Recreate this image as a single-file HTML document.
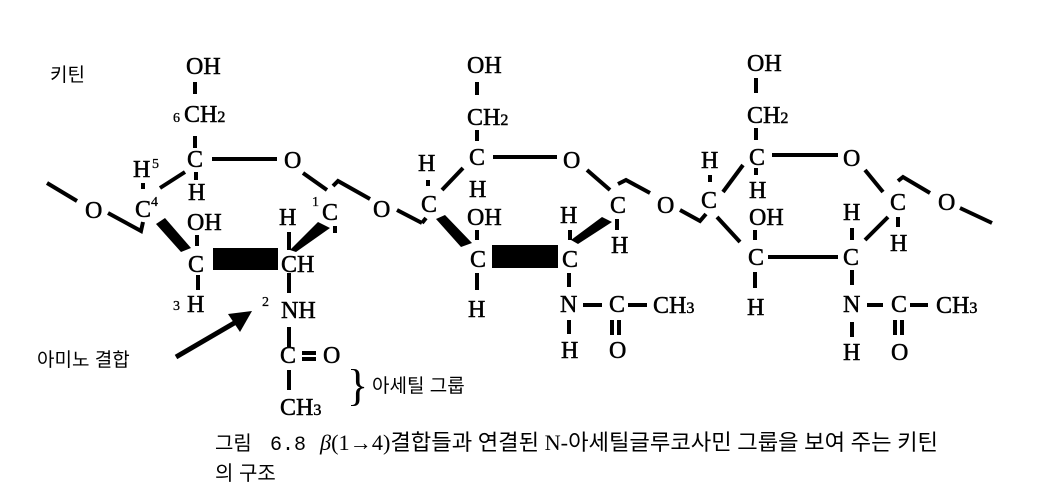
<!DOCTYPE html>
<html><head><meta charset="utf-8"><style>
html,body{margin:0;padding:0;background:#fff;}
svg{display:block;}
.a{font-family:"Liberation Serif","DejaVu Serif",serif;font-size:24px;fill:#000;stroke:#000;stroke-width:0.5;}
.s{font-family:"Liberation Serif",serif;font-size:14px;fill:#000;stroke:#000;stroke-width:0.3;}
.k{font-family:"Liberation Sans","Noto Sans CJK KR",sans-serif;font-size:19px;fill:#000;}
</style></head><body>
<svg width="1064" height="500" viewBox="0 0 1064 500" xmlns="http://www.w3.org/2000/svg">
<g stroke="#000" stroke-width="4" fill="none" stroke-linecap="butt">
<!-- ring 1 -->
<line x1="195" y1="82" x2="195" y2="94"/>
<line x1="195" y1="136" x2="195" y2="148"/>
<line x1="212" y1="159" x2="277" y2="159"/>
<line x1="196" y1="172" x2="196" y2="180"/>
<line x1="143" y1="183" x2="143" y2="189"/>
<line x1="160" y1="188" x2="185" y2="172"/>
<line x1="47" y1="183" x2="77" y2="201"/>
<polyline points="108,213 141,231 143,222"/>
<line x1="197" y1="235" x2="197" y2="246"/>
<line x1="289" y1="232" x2="289" y2="250"/>
<line x1="335" y1="226" x2="335" y2="233"/>
<line x1="303" y1="173" x2="327" y2="190"/>
<polyline points="333,186 338,181 370,199"/>
<line x1="397" y1="210" x2="422" y2="223"/>
<line x1="198" y1="275" x2="198" y2="290"/>
<line x1="289" y1="273" x2="289" y2="293"/>
<line x1="289" y1="327" x2="289" y2="347"/>
<line x1="289" y1="370" x2="289" y2="390"/>
<line x1="302" y1="353" x2="316" y2="353"/>
<line x1="302" y1="359" x2="316" y2="359"/>
<!-- ring 2 -->
<line x1="477" y1="82" x2="477" y2="95"/>
<line x1="477" y1="130" x2="477" y2="141"/>
<line x1="493" y1="157" x2="557" y2="157"/>
<line x1="428" y1="180" x2="428" y2="186"/>
<line x1="442" y1="190" x2="463" y2="168"/>
<polyline points="422,223 426,218"/>
<line x1="477" y1="230" x2="477" y2="240"/>
<line x1="570" y1="230" x2="570" y2="240"/>
<line x1="617" y1="219" x2="617" y2="230"/>
<line x1="587" y1="170" x2="610" y2="190"/>
<polyline points="618,184 626,180 650,193"/>
<polyline points="680,210 700,221 706,214"/>
<line x1="477" y1="273" x2="477" y2="290"/>
<line x1="569" y1="273" x2="569" y2="287"/>
<line x1="583" y1="305" x2="602" y2="305"/>
<line x1="628" y1="305" x2="647" y2="305"/>
<line x1="569" y1="320" x2="569" y2="334"/>
<line x1="612" y1="320" x2="612" y2="335"/>
<line x1="619" y1="320" x2="619" y2="335"/>
<!-- ring 3 -->
<line x1="756" y1="78" x2="756" y2="93"/>
<line x1="756" y1="128" x2="756" y2="140"/>
<line x1="772" y1="155" x2="838" y2="155"/>
<line x1="756" y1="168" x2="756" y2="175"/>
<line x1="710" y1="175" x2="710" y2="182"/>
<line x1="723" y1="192" x2="743" y2="165"/>
<line x1="717" y1="217" x2="740" y2="242"/>
<line x1="755" y1="230" x2="755" y2="240"/>
<line x1="768" y1="257" x2="838" y2="257"/>
<line x1="852" y1="228" x2="852" y2="240"/>
<line x1="865" y1="240" x2="888" y2="217"/>
<line x1="898" y1="217" x2="898" y2="227"/>
<line x1="865" y1="170" x2="883" y2="192"/>
<polyline points="898,181 903,177 930,193"/>
<line x1="960" y1="208" x2="992" y2="223"/>
<line x1="755" y1="272" x2="755" y2="288"/>
<line x1="852" y1="270" x2="852" y2="285"/>
<line x1="867" y1="305" x2="883" y2="305"/>
<line x1="910" y1="305" x2="928" y2="305"/>
<line x1="852" y1="322" x2="852" y2="337"/>
<line x1="895" y1="320" x2="895" y2="335"/>
<line x1="902" y1="320" x2="902" y2="335"/>
<line x1="176" y1="357" x2="236" y2="322" stroke-width="5"/>
</g>
<g fill="#000">
<polygon points="156,224 165,218 191,248 181,252"/>
<rect x="213" y="248" width="65" height="22"/>
<polygon points="290,250 296,252 330,228 318,222"/>
<polygon points="436,219 445,215 472,243 461,247"/>
<rect x="492" y="245" width="66" height="23"/>
<polygon points="571,240 578,244 612,222 602,217"/>
<polygon points="252,311 228,314 240,332"/>
</g>
<!-- labels ring1 -->
<text class="k" x="50" y="81">키틴</text>
<text class="a" x="186" y="74">OH</text>
<text class="s" x="173" y="122">6</text>
<text class="a" x="184" y="122">CH<tspan font-size="16">2</tspan></text>
<text class="a" x="187" y="167">C</text>
<text class="a" x="284" y="168">O</text>
<text class="a" x="188" y="200">H</text>
<text class="a" x="133" y="177">H</text><text class="s" x="152" y="168">5</text>
<text class="a" x="135" y="217">C</text><text class="s" x="151" y="206">4</text>
<text class="a" x="85" y="218">O</text>
<text class="a" x="187" y="230">OH</text>
<text class="a" x="188" y="272">C</text>
<text class="a" x="281" y="272">CH</text>
<text class="a" x="279" y="225">H</text>
<text class="s" x="312" y="206">1</text>
<text class="a" x="322" y="220">C</text>
<text class="a" x="373" y="217">O</text>
<text class="s" x="173" y="310">3</text>
<text class="a" x="187" y="312">H</text>
<text class="s" x="262" y="306">2</text>
<text class="a" x="281" y="318">NH</text>
<text class="a" x="280" y="363">C</text>
<text class="a" x="323" y="363">O</text>
<text class="a" x="280" y="415">CH<tspan font-size="16">3</tspan></text>
<text style="font-family:'Liberation Serif',serif;font-size:44px" x="347" y="400">}</text>
<text class="k" x="372" y="392">아세틸 그룹</text>
<text class="k" x="37" y="366">아미노 결합</text>
<!-- ring 2 -->
<text class="a" x="467" y="73">OH</text>
<text class="a" x="467" y="125">CH<tspan font-size="16">2</tspan></text>
<text class="a" x="469" y="165">C</text>
<text class="a" x="563" y="168">O</text>
<text class="a" x="469" y="197">H</text>
<text class="a" x="418" y="171">H</text>
<text class="a" x="421" y="212">C</text>
<text class="a" x="467" y="225">OH</text>
<text class="a" x="470" y="267">C</text>
<text class="a" x="562" y="267">C</text>
<text class="a" x="560" y="223">H</text>
<text class="a" x="610" y="213">C</text>
<text class="a" x="611" y="253">H</text>
<text class="a" x="657" y="213">O</text>
<text class="a" x="468" y="317">H</text>
<text class="a" x="560" y="312">N</text>
<text class="a" x="609" y="312">C</text>
<text class="a" x="653" y="313">CH<tspan font-size="16">3</tspan></text>
<text class="a" x="561" y="358">H</text>
<text class="a" x="609" y="358">O</text>
<!-- ring 3 -->
<text class="a" x="747" y="71">OH</text>
<text class="a" x="747" y="123">CH<tspan font-size="16">2</tspan></text>
<text class="a" x="749" y="165">C</text>
<text class="a" x="843" y="166">O</text>
<text class="a" x="749" y="198">H</text>
<text class="a" x="701" y="168">H</text>
<text class="a" x="701" y="208">C</text>
<text class="a" x="749" y="225">OH</text>
<text class="a" x="748" y="265">C</text>
<text class="a" x="843" y="265">C</text>
<text class="a" x="843" y="220">H</text>
<text class="a" x="890" y="210">C</text>
<text class="a" x="890" y="251">H</text>
<text class="a" x="938" y="210">O</text>
<text class="a" x="747" y="315">H</text>
<text class="a" x="843" y="312">N</text>
<text class="a" x="891" y="312">C</text>
<text class="a" x="936" y="313">CH<tspan font-size="16">3</tspan></text>
<text class="a" x="843" y="360">H</text>
<text class="a" x="891" y="360">O</text>
<!-- caption -->
<text class="k" x="215" y="450" style="font-size:20px">그림</text>
<text style="font-family:'Liberation Mono',monospace;font-size:20px" x="270" y="450">6.8</text>
<text style="font-family:'Liberation Serif','Noto Sans CJK KR',serif;font-size:22px" x="320" y="450" textLength="618" lengthAdjust="spacingAndGlyphs"><tspan font-style="italic">β</tspan>(1→4)결합들과 연결된 N-아세틸글루코사민 그룹을 보여 주는 키틴</text>
<text class="k" x="215" y="480" style="font-size:20px">의 구조</text>
</svg>
</body></html>
